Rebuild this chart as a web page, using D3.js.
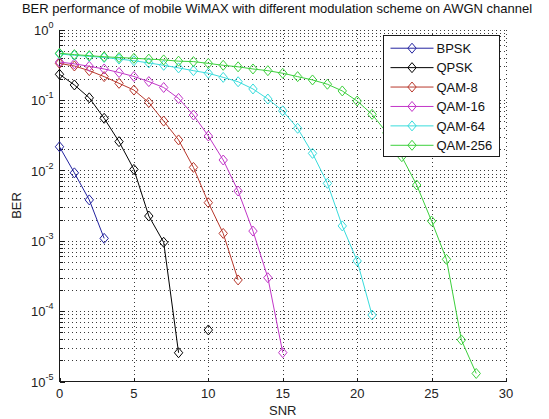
<!DOCTYPE html>
<html>
<head>
<meta charset="utf-8">
<script src="https://cdn.jsdelivr.net/npm/d3@7"></script>
<style>
	body { margin: 0; background: #fff; }
	svg { display: block; font-family: "Liberation Sans", Arial, sans-serif; }
</style>
</head>
<body>
<div id="chart"></div>
<script>
// values (null = BER of zero, not drawable on log axis)
const seriesNames = ['BPSK', 'QPSK', 'QAM-8', 'QAM-16', 'QAM-64', 'QAM-256']
const seriesColors = ['#2424a0', '#000000', '#b8382c', '#c236c8', '#38dcdc', '#3cd03c']
const berBpsk = [0.0216, 0.0092, 0.0038, 0.00108]
const berQpsk = [0.231, 0.163, 0.107, 0.0548, 0.0255, 0.0103, 0.00224, 0.00095, 2.56e-5, null, 5.4e-5]
const berQam8 = [0.33, 0.303, 0.26, 0.214, 0.172, 0.138, 0.092, 0.05, 0.027, 0.011, 0.00347, 0.00127, 0.000277]
const berQam16 = [0.345, 0.325, 0.3, 0.275, 0.245, 0.215, 0.182, 0.15, 0.105, 0.061, 0.0307, 0.014, 0.00508, 0.00137, 0.000298, 2.57e-5]
const berQam64 = [0.45, 0.43, 0.415, 0.4, 0.38, 0.36, 0.335, 0.31, 0.285, 0.26, 0.239, 0.209, 0.181, 0.143, 0.103, 0.07, 0.0395, 0.0174, 0.00653, 0.00162, 0.000515, 8.8e-5]
const berQam256 = [0.46, 0.44, 0.425, 0.41, 0.4, 0.39, 0.38, 0.37, 0.355, 0.35, 0.33, 0.31, 0.295, 0.275, 0.26, 0.239, 0.214, 0.192, 0.167, 0.134, 0.0964, 0.0624, 0.034, 0.0156, 0.00618, 0.0019, 0.000544, 3.9e-5, 1.3e-5]
const xTicks = [0, 5, 10, 15, 20, 25, 30]
const yExponents = [0, -1, -2, -3, -4, -5]

const W = 549, H = 419
const plotL = 59.5, plotR = 506, plotT = 29.5, plotB = 381.5
const fontSize = 13

const svg = d3.select('#chart').append('svg')
	.attr('width', W)
	.attr('height', H)

const x = d3.scaleLinear().domain([0, 30]).range([plotL, plotR])
const y = d3.scaleLog().domain([1e-5, 1]).range([plotB, plotT])

// grid: dotted, vertical at major x ticks, horizontal at every log tick
const minorY = []
for (let e = -5; e < 0; e++) {
	for (let m = 1; m <= 9; m++) minorY.push(m * Math.pow(10, e))
}
minorY.push(1)

const grid = svg.append('g').attr('class', 'grid')
	.style('stroke', '#3a3a3a')
	.style('stroke-width', 1)
	.style('stroke-dasharray', '1,3')
	.attr('shape-rendering', 'crispEdges')

grid.selectAll('line.gy')
	.data(minorY.filter(v => v > 1e-5))
	.enter().append('line')
		.attr('class', 'gy')
		.attr('x1', plotL)
		.attr('x2', plotR)
		.attr('y1', d => Math.round(y(d)) + 0.5)
		.attr('y2', d => Math.round(y(d)) + 0.5)

grid.selectAll('line.gx')
	.data(xTicks.filter(v => v > 0))
	.enter().append('line')
		.attr('class', 'gx')
		.attr('x1', d => Math.round(x(d)) + 0.5)
		.attr('x2', d => Math.round(x(d)) + 0.5)
		.attr('y1', plotT)
		.attr('y2', plotB)

// axes lines (box off) and inward ticks
const axisG = svg.append('g')
	.style('stroke', '#1a1a1a')
	.style('stroke-width', 1)
	.attr('shape-rendering', 'crispEdges')

axisG.append('line')
	.attr('x1', plotL).attr('x2', plotR)
	.attr('y1', plotB).attr('y2', plotB)
axisG.append('line')
	.attr('x1', plotL).attr('x2', plotL)
	.attr('y1', plotT).attr('y2', plotB)

axisG.selectAll('line.tx')
	.data(xTicks)
	.enter().append('line')
		.attr('x1', d => Math.round(x(d)) + 0.5)
		.attr('x2', d => Math.round(x(d)) + 0.5)
		.attr('y1', plotB)
		.attr('y2', plotB - 4)

axisG.selectAll('line.ty')
	.data(minorY)
	.enter().append('line')
		.attr('x1', plotL)
		.attr('x2', d => {
			const m = d / Math.pow(10, Math.floor(Math.log10(d) + 1e-9))
			return Math.abs(m - 1) < 1e-6 ? plotL + 5 : plotL + 3
		})
		.attr('y1', d => Math.round(y(d)) + 0.5)
		.attr('y2', d => Math.round(y(d)) + 0.5)

// tick labels
svg.append('g').selectAll('text')
	.data(xTicks)
	.enter().append('text')
		.attr('x', d => x(d))
		.attr('y', plotB + 16)
		.attr('text-anchor', 'middle')
		.style('font-size', fontSize + 'px')
		.style('fill', '#222')
		.text(d => d)

const yLab = svg.append('g').selectAll('text')
	.data(yExponents)
	.enter().append('text')
		.attr('x', plotL - 6)
		.attr('y', d => y(Math.pow(10, d)))
		.attr('text-anchor', 'end')
		.style('fill', '#222')
yLab.append('tspan')
	.attr('dy', '0.4em')
	.style('font-size', fontSize + 'px')
	.text('10')
yLab.append('tspan')
	.attr('dy', -7)
	.style('font-size', '9px')
	.text(d => d)

svg.append('text')
	.attr('x', (plotL + plotR) / 2)
	.attr('y', 415)
	.attr('text-anchor', 'middle')
	.style('font-size', fontSize + 'px')
	.style('fill', '#222')
	.text('SNR')

svg.append('text')
	.attr('transform', 'translate(21,' + ((plotT + plotB) / 2) + ') rotate(-90)')
	.attr('text-anchor', 'middle')
	.style('font-size', fontSize + 'px')
	.style('fill', '#222')
	.text('BER')

svg.append('text')
	.attr('x', 277)
	.attr('y', 13)
	.attr('text-anchor', 'middle')
	.style('font-size', fontSize + 'px')
	.style('fill', '#111')
	.text('BER performance of mobile WiMAX with different modulation scheme on AWGN channel')

// series
const allSeries = [berBpsk, berQpsk, berQam8, berQam16, berQam64, berQam256].map((vals, i) => ({
	name: seriesNames[i],
	color: seriesColors[i],
	points: vals.map((v, k) => ({ snr: k, ber: v }))
}))

const line = d3.line()
	.defined(p => p.ber !== null)
	.x(p => x(p.snr))
	.y(p => y(p.ber))

function diamond(cx, cy) {
	const hw = 4.2, hh = 5
	return 'M' + cx + ',' + (cy - hh) + 'L' + (cx + hw) + ',' + cy + 'L' + cx + ',' + (cy + hh) + 'L' + (cx - hw) + ',' + cy + 'Z'
}

const plot = svg.append('g')
allSeries.forEach((s, i) => {
	plot.append('path')
		.attr('d', line(s.points))
		.style('fill', 'none')
		.style('stroke', s.color)
		.style('stroke-width', 1)
	plot.selectAll('path.m' + i)
		.data(s.points.filter(p => p.ber !== null))
		.enter().append('path')
			.attr('class', 'm' + i)
			.attr('d', p => diamond(x(p.snr), y(p.ber)))
			.style('fill', 'none')
			.style('stroke', s.color)
			.style('stroke-width', 1)
})

// legend
const lg = svg.append('g')
lg.append('rect')
	.attr('x', 383.5)
	.attr('y', 35.5)
	.attr('width', 116)
	.attr('height', 121)
	.style('fill', '#fff')
	.style('stroke', '#1a1a1a')
	.style('stroke-width', 1)

const lgRow = d3.scaleBand().domain(seriesNames).range([38.5, 155]).paddingInner(0)
const items = lg.selectAll('g.item')
	.data(allSeries)
	.enter().append('g')
		.attr('class', 'item')
		.attr('transform', d => 'translate(0,' + (lgRow(d.name) + lgRow.bandwidth() / 2) + ')')
items.append('line')
	.attr('x1', 390.5).attr('x2', 433.5)
	.attr('y1', 0).attr('y2', 0)
	.style('stroke', d => d.color)
items.append('path')
	.attr('d', diamond(412, 0))
	.style('fill', 'none')
	.style('stroke', d => d.color)
items.append('text')
	.attr('x', 436.5)
	.attr('y', 0)
	.attr('dy', '0.36em')
	.style('font-size', fontSize + 'px')
	.style('fill', '#111')
	.text(d => d.name)
</script>
</body>
</html>
